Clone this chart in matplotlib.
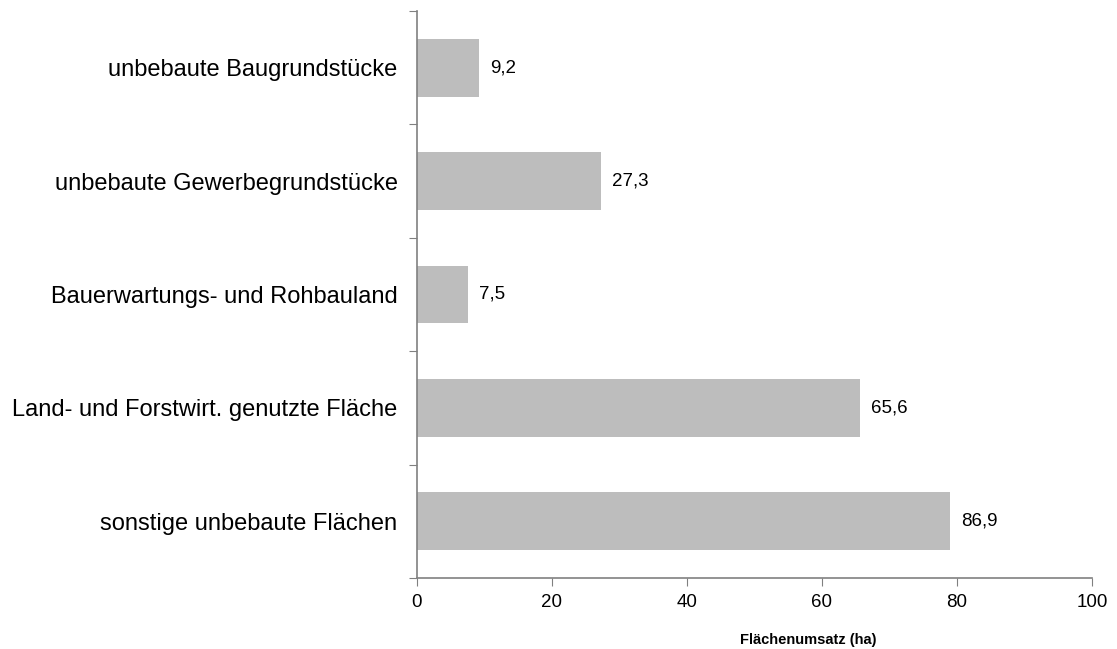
import matplotlib
matplotlib.use("Agg")
import matplotlib.pyplot as plt

# categories, top to bottom
categories = [
    "unbebaute Baugrundstücke",
    "unbebaute Gewerbegrundstücke",
    "Bauerwartungs- und Rohbauland",
    "Land- und Forstwirt. genutzte Fläche",
    "sonstige unbebaute Flächen",
]
# bar lengths as drawn in the picture (last bar is drawn shorter than its label)
bar_lengths = [9.2, 27.3, 7.5, 65.6, 79.0]
value_labels = ["9,2", "27,3", "7,5", "65,6", "86,9"]
x_ticks = [0, 20, 40, 60, 80, 100]

plt.rcParams["font.family"] = ["Liberation Sans", "DejaVu Sans"]

fig = plt.figure(figsize=(11.17, 6.49), dpi=100)
ax = fig.add_axes([0.3733, 0.1094, 0.6043, 0.8737])

n = len(categories)
ypos = list(range(n))[::-1]
ax.barh(ypos, bar_lengths, height=0.51, color="#bdbdbd", edgecolor="none")

for y, v, lab in zip(ypos, bar_lengths, value_labels):
    ax.annotate(lab, (v, y), xytext=(8, 0), textcoords="offset points",
                ha="left", va="center", fontsize=13.5, color="black")

ax.set_xlim(0, 100)
ax.set_ylim(-0.5, n - 0.5)
ax.set_xticks(x_ticks)
ax.set_xticklabels([str(t) for t in x_ticks], fontsize=13.5)

# category labels centered in slots, ticks at slot boundaries
ax.set_yticks([i - 0.5 for i in range(n + 1)])
ax.set_yticklabels([])
ax.set_yticks(ypos, minor=True)
ax.set_yticklabels(categories, minor=True, fontsize=17)
ax.tick_params(axis="y", which="minor", length=0, pad=14)
ax.tick_params(axis="y", which="major", direction="out", length=5.5, color="#808080")
ax.tick_params(axis="x", direction="out", length=5.5, color="#808080", pad=6)

for s in ["top", "right"]:
    ax.spines[s].set_visible(False)
for s in ["left", "bottom"]:
    ax.spines[s].set_color("#808080")
    ax.spines[s].set_linewidth(1.2)

ax.set_xlabel("Flächenumsatz (ha)", fontsize=10.5, fontweight="bold")
ax.xaxis.set_label_coords(0.58, -0.097)

fig.savefig("out.png", dpi=100, facecolor="white")
